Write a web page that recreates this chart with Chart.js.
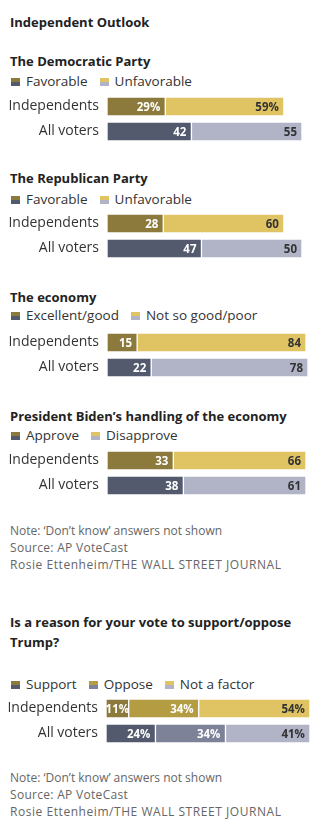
<!DOCTYPE html>
<html lang="en">
<head>
<meta charset="UTF-8">
<title>Independent Outlook</title>
<script src="https://cdn.jsdelivr.net/npm/chart.js"></script>
<style>
  body { margin: 0; background: #fff; font-family: "Open Sans", sans-serif; }
  #page { position: relative; width: 327px; height: 829px; overflow: hidden; }
  .t { position: absolute; left: 10px; white-space: nowrap; line-height: 18px; }
  .title { font-weight: bold; font-size: 13px; color: #222; }
  .legend { font-size: 13.5px; color: #333; left: 11px; }
  .legend span.sw { display: inline-block; width: 9px; height: 8px; margin-right: 6px; vertical-align: 0px; }
  .legend span.item { margin-right: 12px; }
  .note { font-size: 12px; color: #666; }
  .box { position: absolute; left: 0; width: 327px; height: 50px; }
</style>
</head>
<body>
<div id="page"></div>

<script>
  // categories
  const rows = ['Independents', 'All voters'];

  // colours: first entry independents, second all voters
  const darkColors = ['#8c7a3c', '#545a6e'];
  const midColors = ['#b39c42', '#7e8298'];
  const lightColors = ['#e0c463', '#b1b3c7'];

  // The Democratic Party
  const demFavorable = [29, 42];
  const demUnfavorable = [59, 55];
  const demPct = [true, false];

  // The Republican Party
  const repFavorable = [28, 47];
  const repUnfavorable = [60, 50];

  // The economy
  const econGood = [15, 22];
  const econPoor = [84, 78];

  // President Biden's handling of the economy
  const bidenApprove = [33, 38];
  const bidenDisapprove = [66, 61];

  // Trump as a reason for vote
  const trumpSupport = [11, 24];
  const trumpOppose = [34, 34];
  const trumpNotFactor = [54, 41];

  const notes = [
    'Note: \u2018Don\u2019t know\u2019 answers not shown',
    'Source: AP VoteCast',
    'Rosie Ettenheim/THE WALL STREET JOURNAL'
  ];
  const noteSpacing = ['0px', '0.3px', '0.55px'];

  const page = document.getElementById('page');

  const addText = (text, centerY, cls) => {
    const d = document.createElement('div');
    d.className = 't ' + cls;
    d.style.top = (centerY - 9) + 'px';
    d.textContent = text;
    page.appendChild(d);
    return d;
  };

  const addLegend = (items, centerY) => {
    const d = addText('', centerY, 'legend');
    items.forEach(([name, top, bottom]) => {
      const it = document.createElement('span');
      it.className = 'item';
      const sw = document.createElement('span');
      sw.className = 'sw';
      sw.style.background = `linear-gradient(${top} 0 45%, #fff 45% 55%, ${bottom} 55% 100%)`;
      it.appendChild(sw);
      it.appendChild(document.createTextNode(name));
      d.appendChild(it);
    });
  };

  const addNotes = (startY) => {
    notes.forEach((n, i) => {
      const d = addText(n, startY + i * 17, 'note');
      d.style.letterSpacing = noteSpacing[i];
    });
  };

  // value labels right-aligned inside each segment
  const valueLabels = {
    id: 'valueLabels',
    afterDatasetsDraw(chart) {
      const ctx = chart.ctx;
      chart.data.datasets.forEach((ds, i) => {
        chart.getDatasetMeta(i).data.forEach((bar, j) => {
          const txt = ds.data[j] + (ds.pct[j] ? '%' : '');
          ctx.save();
          ctx.font = 'bold 11.5px "Open Sans"';
          ctx.fillStyle = ds.labelColor[j];
          ctx.textAlign = 'right';
          ctx.textBaseline = 'middle';
          const w = ctx.measureText(txt).width;
          const pad = Math.min(5, (Math.abs(bar.x - bar.base) - w) / 2);
          ctx.fillText(txt, bar.x - pad, bar.y + 1);
          ctx.restore();
        });
      });
    }
  };

  const drawBars = (top, datasets, left, right) => {
    const box = document.createElement('div');
    box.className = 'box';
    box.style.top = top + 'px';
    const canvas = document.createElement('canvas');
    box.appendChild(canvas);
    page.appendChild(box);

    new Chart(canvas, {
      type: 'bar',
      data: {
        labels: rows,
        datasets: datasets.map((d) => ({
          data: d.data,
          backgroundColor: d.colors,
          borderColor: 'rgba(255,255,255,0.55)',
          borderWidth: 1,
          borderSkipped: false,
          barThickness: 19,
          labelColor: d.labelColor,
          pct: d.pct
        }))
      },
      options: {
        indexAxis: 'y',
        responsive: true,
        maintainAspectRatio: false,
        animation: false,
        devicePixelRatio: 1,
        layout: { padding: { left: 0, right: 327 - right, top: 0, bottom: 0 } },
        scales: {
          x: { stacked: true, display: false, min: 0, max: 100 },
          y: {
            stacked: true,
            grid: { display: false, drawTicks: false },
            border: { display: false },
            ticks: { padding: 8, color: '#333', font: { family: 'Open Sans', size: 14 } },
            afterFit: (s) => {
              s.width = left;
              s.paddingTop = 0;
              s.paddingBottom = 0;
            }
          }
        },
        plugins: { legend: { display: false }, tooltip: { enabled: false } }
      },
      plugins: [valueLabels]
    });
  };

  const white = ['#fff', '#fff'];
  const dark = ['#333', '#333'];

  addText('Independent Outlook', 22, 'title');

  addText('The Democratic Party', 61, 'title');
  addLegend([['Favorable', darkColors[0], darkColors[1]], ['Unfavorable', lightColors[0], lightColors[1]]], 81);
  drawBars(94, [
    { data: demFavorable, colors: darkColors, labelColor: white, pct: demPct },
    { data: demUnfavorable, colors: lightColors, labelColor: dark, pct: demPct }
  ], 107, 308);

  addText('The Republican Party', 178, 'title');
  addLegend([['Favorable', darkColors[0], darkColors[1]], ['Unfavorable', lightColors[0], lightColors[1]]], 199);
  drawBars(211, [
    { data: repFavorable, colors: darkColors, labelColor: white, pct: [false, false] },
    { data: repUnfavorable, colors: lightColors, labelColor: dark, pct: [false, false] }
  ], 107, 308);

  addText('The economy', 297, 'title');
  addLegend([['Excellent/good', darkColors[0], darkColors[1]], ['Not so good/poor', lightColors[0], lightColors[1]]], 315);
  drawBars(330, [
    { data: econGood, colors: darkColors, labelColor: white, pct: [false, false] },
    { data: econPoor, colors: lightColors, labelColor: dark, pct: [false, false] }
  ], 107, 308);

  addText('President Biden\u2019s handling of the economy', 416, 'title');
  addLegend([['Approve', darkColors[0], darkColors[1]], ['Disapprove', lightColors[0], lightColors[1]]], 435);
  drawBars(448, [
    { data: bidenApprove, colors: darkColors, labelColor: white, pct: [false, false] },
    { data: bidenDisapprove, colors: lightColors, labelColor: dark, pct: [false, false] }
  ], 107, 308);

  addNotes(531);

  addText('Is a reason for your vote to support/oppose', 622, 'title');
  addText('Trump?', 642, 'title');
  addLegend([
    ['Support', darkColors[0], darkColors[1]],
    ['Oppose', midColors[0], midColors[1]],
    ['Not a factor', lightColors[0], lightColors[1]]
  ], 684);
  drawBars(696, [
    { data: trumpSupport, colors: darkColors, labelColor: white, pct: [true, true] },
    { data: trumpOppose, colors: midColors, labelColor: white, pct: [true, true] },
    { data: trumpNotFactor, colors: lightColors, labelColor: dark, pct: [true, true] }
  ], 106, 312);

  addNotes(778);
</script>
</body>
</html>
